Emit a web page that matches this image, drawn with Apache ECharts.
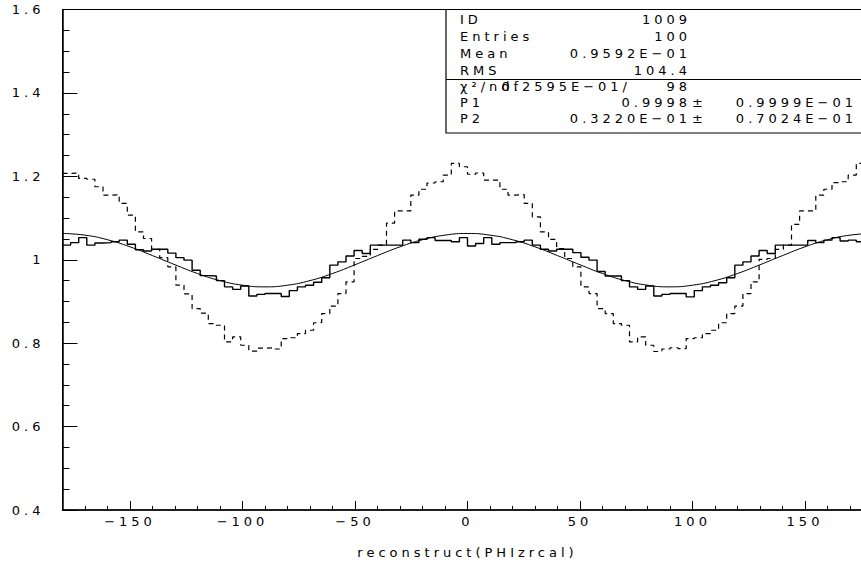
<!DOCTYPE html>
<html><head><meta charset="utf-8">
<script src="https://cdn.jsdelivr.net/npm/echarts@6/dist/echarts.min.js"></script>
<style>html,body{margin:0;padding:0;background:#fff}#c{width:861px;height:568px}#c text{letter-spacing:4px}</style>
</head><body><div id="c"></div><script>
const binMin = -180, binMax = 180, nBins = 100;
const solidVals = [
 1.035,1.041,1.053,1.035,1.040,1.041,1.043,1.047,1.037,1.024,
 1.021,1.025,1.025,1.016,1.005,0.999,0.975,0.962,0.961,0.950,
 0.935,0.929,0.937,0.913,0.917,0.919,0.919,0.912,0.926,0.935,
 0.939,0.946,0.957,0.987,0.995,1.009,1.022,1.015,1.035,1.035,
 1.035,1.035,1.047,1.041,1.049,1.053,1.046,1.046,1.043,1.053,
 1.033,1.039,1.053,1.037,1.041,1.041,1.043,1.047,1.035,1.025,
 1.021,1.025,1.025,1.017,1.006,0.999,0.972,0.961,0.961,0.950,
 0.935,0.929,0.937,0.913,0.917,0.919,0.919,0.911,0.926,0.935,
 0.939,0.945,0.957,0.987,0.995,1.009,1.022,1.015,1.035,1.035,
 1.035,1.035,1.046,1.041,1.047,1.053,1.045,1.047,1.043,1.050
];
const dashedVals = [
 1.207,1.208,1.195,1.193,1.175,1.155,1.156,1.135,1.107,1.067,
 1.051,1.025,1.005,0.983,0.939,0.918,0.883,0.872,0.847,0.843,
 0.803,0.815,0.795,0.781,0.788,0.789,0.786,0.811,0.813,0.823,
 0.831,0.849,0.871,0.889,0.919,0.947,1.003,1.008,1.025,1.035,
 1.088,1.117,1.117,1.155,1.169,1.184,1.187,1.203,1.231,1.223,
 1.205,1.208,1.191,1.191,1.169,1.155,1.156,1.135,1.103,1.067,
 1.049,1.027,1.003,0.983,0.935,0.919,0.883,0.871,0.847,0.843,
 0.803,0.815,0.795,0.780,0.786,0.789,0.787,0.811,0.813,0.823,
 0.831,0.849,0.871,0.889,0.919,0.947,1.001,1.003,1.025,1.035,
 1.085,1.117,1.117,1.155,1.169,1.185,1.187,1.203,1.231,1.222
];
const fitX = [-180,-170,-160,-150,-140,-130,-120,-110,-100,-90,-80,-70,-60,-50,-40,-30,-20,-10,0,
  10,20,30,40,50,60,70,80,90,100,110,120,130,140,150,160,170,180];
const fitY = [1.063,1.059,1.048,1.031,1.010,0.988,0.967,0.950,0.939,0.935,0.939,0.950,0.967,0.988,1.010,1.031,1.048,1.059,1.063,
  1.059,1.048,1.031,1.010,0.988,0.967,0.950,0.939,0.935,0.939,0.950,0.967,0.988,1.010,1.031,1.048,1.059,1.063];
const xMajorTicks = [-150,-100,-50,0,50,100,150];
const xTitle = 'reconstruct(PHIzrcal)';
const statLabels = ['ID','Entries','Mean','RMS'];
const statValues = ['1009','100','0.9592E\u221201','104.4'];
const fitLabels = ['\u03c7\u00b2/ndf','P1','P2'];
const fitValues = ['0.2595E\u221201/','0.9998','0.3220E\u221201'];
const fitExtra = ['98','0.9999E\u221201','0.7024E\u221201'];

const w = (binMax - binMin) / nBins;
function hist(vals){
  const d = vals.map((v,i)=>[binMin + i*w, v]);
  d.push([binMax, vals[vals.length-1]]);
  return d;
}
const FONT = '13px "DejaVu Sans"';
const T = (text, x, y, align) => ({type:'text', x, y, style:{text, font:FONT, fill:'#000', textAlign:align, textVerticalAlign:'middle'}});
const rowsY = [19,36,53,70,86,102,118];
const g = [
  {type:'rect', shape:{x:446, y:9.5, width:500, height:123.5}, style:{fill:'#fff', stroke:'#000', lineWidth:1.2}},
  {type:'line', shape:{x1:446, y1:79.5, x2:900, y2:79.5}, style:{stroke:'#000', lineWidth:1.2}}
];
statLabels.forEach((l,i)=>{ g.push(T(l,460,rowsY[i],'left')); g.push(T(statValues[i],691,rowsY[i],'right')); });
g.push(T(fitLabels[0],460,rowsY[4],'left'));
g.push(T(fitValues[0],631,rowsY[4],'right'));
g.push(T(fitExtra[0],691,rowsY[4],'right'));
for (let i=1;i<3;i++){
  g.push(T(fitLabels[i],460,rowsY[4+i],'left'));
  g.push(T(fitValues[i],691,rowsY[4+i],'right'));
  g.push(T('\u00b1',692,rowsY[4+i],'left'));
  g.push(T(fitExtra[i],857,rowsY[4+i],'right'));
}

const chart = echarts.init(document.getElementById('c'), null, {renderer:'svg'});
const lab = {color:'#000', fontFamily:'DejaVu Sans', fontSize:13};
chart.setOption({
  animation:false,
  backgroundColor:'#fff',
  grid:{left:62.5, top:9.5, width:810, height:500.5, show:true, borderColor:'#000', borderWidth:1,
        containLabel:false, outerBoundsMode:'none'},
  xAxis:[
    {type:'value', min:binMin, max:binMax, interval:10, position:'bottom',
     axisLine:{onZero:false, lineStyle:{color:'#000', width:1.5}},
     axisTick:{inside:true, length:4, interval:0, lineStyle:{color:'#000'}},
     axisLabel:Object.assign({interval:0, margin:5, formatter:v=> (xMajorTicks.indexOf(v)>=0 ? String(v).replace('-','\u2212') : '')}, lab),
     splitLine:{show:false},
     name:xTitle, nameLocation:'middle', nameGap:36, nameTextStyle:lab},
    {type:'value', min:binMin, max:binMax, position:'bottom',
     axisLine:{show:false, onZero:false},
     axisTick:{inside:true, length:9, customValues:xMajorTicks, lineStyle:{color:'#000'}},
     axisLabel:{show:false}, splitLine:{show:false}}
  ],
  yAxis:{type:'value', min:0.4, max:1.6, interval:0.2, position:'left',
    axisLine:{show:true, onZero:false, lineStyle:{color:'#000', width:1.5}},
    axisTick:{inside:true, length:15, lineStyle:{color:'#000'}},
    minorTick:{show:true, splitNumber:4, length:7, lineStyle:{color:'#000'}},
    axisLabel:Object.assign({margin:18}, lab),
    splitLine:{show:false}},
  series:[
    {type:'line', data:hist(dashedVals), step:'end', symbol:'none', lineStyle:{color:'#000', width:1.2, type:[5,4]}},
    {type:'line', data:hist(solidVals), step:'end', symbol:'none', lineStyle:{color:'#000', width:1.4}},
    {type:'line', data:fitX.map((x,i)=>[x,fitY[i]]), smooth:true, symbol:'none', lineStyle:{color:'#000', width:1}}
  ],
  graphic:g
});
</script></body></html>
